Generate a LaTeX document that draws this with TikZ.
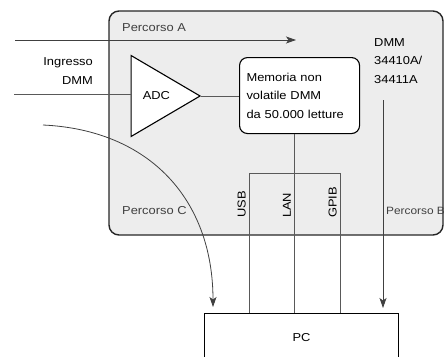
\documentclass[tikz,border=0pt]{standalone}
\usepackage{fontspec}
\setmainfont{Liberation Sans}[FakeStretch=1.12]
\usepackage{tikz}
\usetikzlibrary{shapes,arrows,arrows.meta,positioning,calc}

\begin{document}
\begin{tikzpicture}[
        x=1pt, y=-1pt,
        font=\fontsize{11.5}{18.5}\selectfont,
        panel/.style={rectangle, draw=black!85, fill=black!7, line width=1.4pt, rounded corners=10pt, minimum width=334pt, minimum height=224pt, inner sep=0pt},
        adc/.style={isosceles triangle, isosceles triangle stretches, draw, fill=white, minimum height=69pt, minimum width=81pt, inner sep=0pt, line width=1.1pt},
        memory/.style={rectangle, draw, fill=white, rounded corners=8pt, minimum width=120pt, minimum height=76pt, text width=106pt, align=left, line width=1.1pt},
        pcbox/.style={rectangle, draw, fill=white, minimum width=194pt, minimum height=48pt, line width=1.1pt},
        wire/.style={draw=black!65, line width=0.7pt},
        arrow/.style={draw=black!75, -{Stealth[length=10pt, width=7pt, inset=2.5pt]}, line width=0.8pt},
        route/.style={text=black!75, inner sep=0pt},
        port/.style={rotate=90, anchor=south west, inner sep=2pt}
    ]
    \useasboundingbox (0,0) rectangle (444,356);

    \node [panel] (dmm) at (276,123) {};
    \node [route, anchor=west] at (122,28) {Percorso A};
    \node [route, anchor=west] at (122,211) {Percorso C};
    \node [route, anchor=west, font=\fontsize{10.6}{13}\selectfont] at (386,211) {Percorso B};

    \node [adc, anchor=lower side] (conv) at (130.5,96) {ADC};
    \node [memory, anchor=north west] (mem) at (239,57) {Memoria non\\volatile DMM\\da 50.000 letture};
    \node [anchor=north west, align=left, inner sep=0pt] (model) at (374,38) {DMM\\34410A/\\34411A};
    \node [align=right, anchor=east, inner sep=0pt] (input) at (93,71) {Ingresso\\DMM};

    \node [pcbox, anchor=north west] (pc) at (204,313) {PC};

    % interfaces
    \coordinate (usb) at (249,173);
    \coordinate (lan) at (294,173);
    \coordinate (gpib) at (340,173);
    \node [port] at ($(usb)+(-1,47)$) {USB};
    \node [port] at ($(lan)+(-1,47)$) {LAN};
    \node [port] at ($(gpib)+(-1,47)$) {GPIB};

    % paths
    \coordinate (inA) at (15,40);
    \coordinate (outA) at (296,40);
    \coordinate (inSig) at (14,94);
    \coordinate (inC) at (43,125);
    \coordinate (inB) at (383,100);
    \coordinate (outC) at (213,313);

    \path [arrow] (inA) -- (outA);
    \path [wire] (inSig) -- (conv.lower side |- inSig);
    \path [wire] (conv.apex) -- (conv.apex -| mem.west);
    \path [wire] (pc.north -| usb) -- (usb) -- (gpib) -- (pc.north -| gpib);
    \path [wire] (mem.south -| lan) -- (pc.north -| lan);
    \path [arrow, shorten >=5pt] (inB) -- (pc.north -| inB);
    \path [arrow, shorten >=6pt] (inC) .. controls (150,130) and (213,200) .. (outC);

\end{tikzpicture}
\end{document}
